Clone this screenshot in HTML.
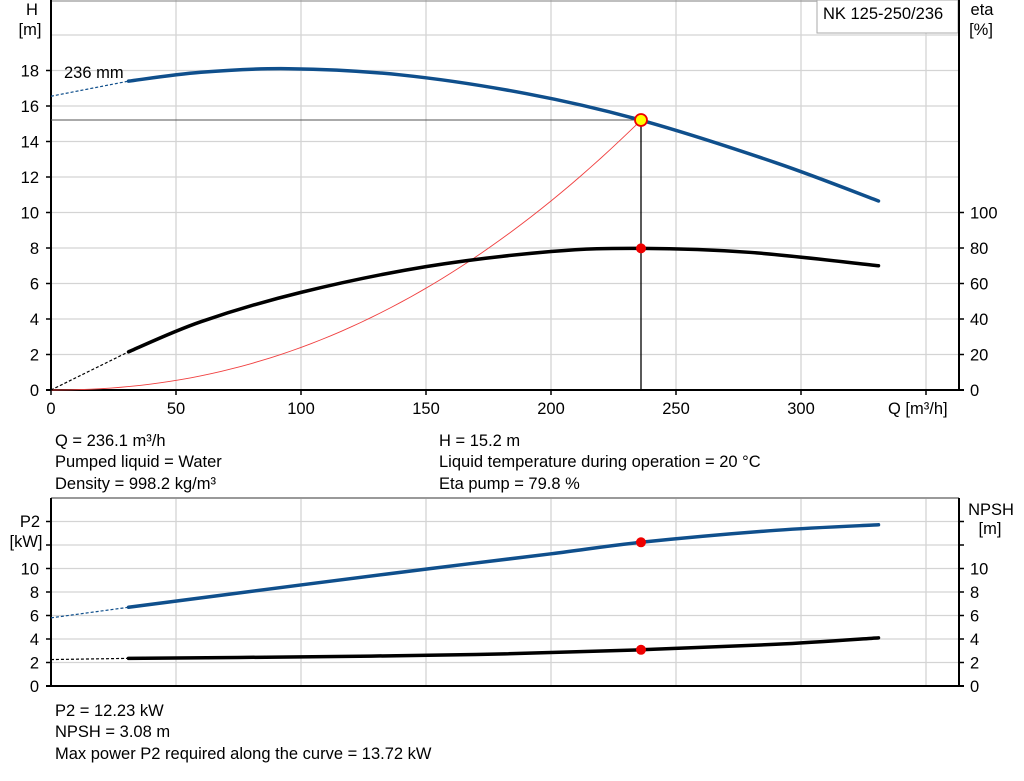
<!DOCTYPE html>
<html><head><meta charset="utf-8"><style>
body{margin:0;background:#fff;}
svg{display:block;font-family:"Liberation Sans",Arial,sans-serif;}
</style></head><body>
<svg id="s" width="1024" height="781" viewBox="0 0 1024 781" xmlns="http://www.w3.org/2000/svg">
<rect width="1024" height="781" fill="#fff"/>
<g id="grid" stroke="#d4d4d4" stroke-width="1.3"></g>
<g font-size="16.5" fill="#000">
<text x="32" y="15" text-anchor="middle">H</text>
<text x="30" y="35" text-anchor="middle">[m]</text>
<text x="982" y="15" text-anchor="middle">eta</text>
<text x="981" y="35" text-anchor="middle">[%]</text>
<text x="30" y="527" text-anchor="middle">P2</text>
<text x="26" y="547" text-anchor="middle">[kW]</text>
<text x="991" y="515" text-anchor="middle">NPSH</text>
<text x="990" y="534" text-anchor="middle">[m]</text>
<text x="888" y="414">Q [m³/h]</text>
<text x="64" y="78">236 mm</text>
<text x="55" y="446">Q = 236.1 m³/h</text>
<text x="55" y="467">Pumped liquid = Water</text>
<text x="55" y="489">Density = 998.2 kg/m³</text>
<text x="439" y="446">H = 15.2 m</text>
<text x="439" y="467">Liquid temperature during operation = 20 °C</text>
<text x="439" y="489">Eta pump = 79.8 %</text>
<text x="55" y="716">P2 = 12.23 kW</text>
<text x="55" y="737">NPSH = 3.08 m</text>
<text x="55" y="759">Max power P2 required along the curve = 13.72 kW</text>
</g>
<rect x="817" y="0" width="141" height="33" fill="#fff" stroke="#aaa" stroke-width="1"/>
<text x="823" y="19" font-size="16.5">NK 125-250/236</text>
<g id="ax"></g>
<g id="cv"></g>
</svg>
<script>
var NS="http://www.w3.org/2000/svg";
function el(p,t,a,txt){var e=document.createElementNS(NS,t);for(var k in a)e.setAttribute(k,a[k]);if(txt!==undefined)e.textContent=txt;document.getElementById(p).appendChild(e);return e;}
function X(q){return 51+2.5*q;}
function Yt(h){return 390-17.75*h;}
function Yb(v){return 686-11.75*v;}
for(var q=50;q<=350;q+=50){el("grid","line",{x1:X(q),y1:0,x2:X(q),y2:390});el("grid","line",{x1:X(q),y1:498,x2:X(q),y2:686});}
for(var h=2;h<=20;h+=2)el("grid","line",{x1:51,y1:Yt(h),x2:959,y2:Yt(h)});
el("grid","line",{x1:51,y1:1,x2:959,y2:1,stroke:"#999"});
for(var v=2;v<=14;v+=2)el("grid","line",{x1:51,y1:Yb(v),x2:959,y2:Yb(v)});
el("grid","line",{x1:51,y1:498,x2:959,y2:498,stroke:"#999",'stroke-width':2});
var A={stroke:"#000","stroke-width":2};
el("ax","line",Object.assign({x1:51,y1:0,x2:51,y2:391},A));
el("ax","line",Object.assign({x1:959,y1:0,x2:959,y2:391},A));
el("ax","line",Object.assign({x1:46,y1:390,x2:964,y2:390},A));
el("ax","line",Object.assign({x1:51,y1:498,x2:51,y2:687},A));
el("ax","line",Object.assign({x1:959,y1:498,x2:959,y2:687},A));
el("ax","line",Object.assign({x1:46,y1:686,x2:964,y2:686},A));
var FS=16.5;
for(var q=0;q<=350;q+=50){el("ax","line",{x1:X(q),y1:390,x2:X(q),y2:395,stroke:"#000","stroke-width":1.5});if(q<=300)el("ax","text",{x:X(q),y:414,"font-size":FS,"text-anchor":"middle"},q);}
for(var h=0;h<=18;h+=2){el("ax","line",{x1:46,y1:Yt(h),x2:51,y2:Yt(h),stroke:"#000","stroke-width":1.5});el("ax","text",{x:39,y:Yt(h)+6,"font-size":FS,"text-anchor":"end"},h);}
for(var e=0;e<=100;e+=20){el("ax","line",{x1:959,y1:Yt(e/10),x2:964,y2:Yt(e/10),stroke:"#000","stroke-width":1.5});el("ax","text",{x:970,y:Yt(e/10)+6,"font-size":FS},e);}
for(var v=0;v<=14;v+=2){el("ax","line",{x1:46,y1:Yb(v),x2:51,y2:Yb(v),stroke:"#000","stroke-width":1.5});el("ax","line",{x1:959,y1:Yb(v),x2:964,y2:Yb(v),stroke:"#000","stroke-width":1.5});if(v<=10){el("ax","text",{x:39,y:Yb(v)+6,"font-size":FS,"text-anchor":"end"},v);el("ax","text",{x:970,y:Yb(v)+6,"font-size":FS},v);}}
function cr(pts,fy){var P=pts.map(function(p){return [X(p[0]),fy(p[1])];});var d="M"+P[0][0]+","+P[0][1];
for(var i=0;i<P.length-1;i++){var p0=P[Math.max(0,i-1)],p1=P[i],p2=P[i+1],p3=P[Math.min(P.length-1,i+2)];
d+=" C"+(p1[0]+(p2[0]-p0[0])/6)+","+(p1[1]+(p2[1]-p0[1])/6)+" "+(p2[0]-(p3[0]-p1[0])/6)+","+(p2[1]-(p3[1]-p1[1])/6)+" "+p2[0]+","+p2[1];}return d;}
function curve(pts,fy,col){
el("cv","path",{d:cr(pts.slice(0,2),fy),fill:"none",stroke:col,"stroke-width":1.2,"stroke-dasharray":"3,2"});
el("cv","path",{d:cr(pts.slice(1),fy),fill:"none",stroke:col,"stroke-width":3.5,"stroke-linecap":"round"});}
var sp=[];for(var q=0;q<=236;q+=4)sp.push([q,15.2*Math.pow(q/236,2.15)]);sp.push([236,15.2]);
el("cv","path",{d:"M"+sp.map(function(p){return X(p[0])+","+Yt(p[1]);}).join(" L"),fill:"none",stroke:"#f04040","stroke-width":0.9});
el("cv","line",{x1:51,y1:120,x2:641,y2:120,stroke:"#555","stroke-width":1});
el("cv","line",{x1:641,y1:120,x2:641,y2:390,stroke:"#000","stroke-width":1.3});
curve([[0,16.55],[31,17.4],[60,17.9],[95,18.1],[140,17.75],[190,16.7],[236,15.2],[290,12.8],[331,10.65]],Yt,"#0f4f8c");
curve([[0,0],[31,2.15],[60,3.85],[100,5.5],[150,6.95],[200,7.8],[236,7.98],[280,7.75],[331,7.0]],Yt,"#000");
curve([[0,5.8],[31,6.7],[100,8.6],[150,9.95],[200,11.25],[236,12.23],[290,13.25],[331,13.72]],Yb,"#0f4f8c");
curve([[0,2.25],[31,2.35],[100,2.48],[170,2.68],[236,3.08],[290,3.55],[331,4.1]],Yb,"#000");
el("cv","circle",{cx:641,cy:120,r:6,fill:"#ffff00",stroke:"#e00",'stroke-width':1.8});
el("cv","circle",{cx:641,cy:Yt(7.98),r:5,fill:"#e00"});
el("cv","circle",{cx:641,cy:Yb(12.23),r:5,fill:"#e00"});
el("cv","circle",{cx:641,cy:Yb(3.08),r:5,fill:"#e00"});
</script>
</body></html>
